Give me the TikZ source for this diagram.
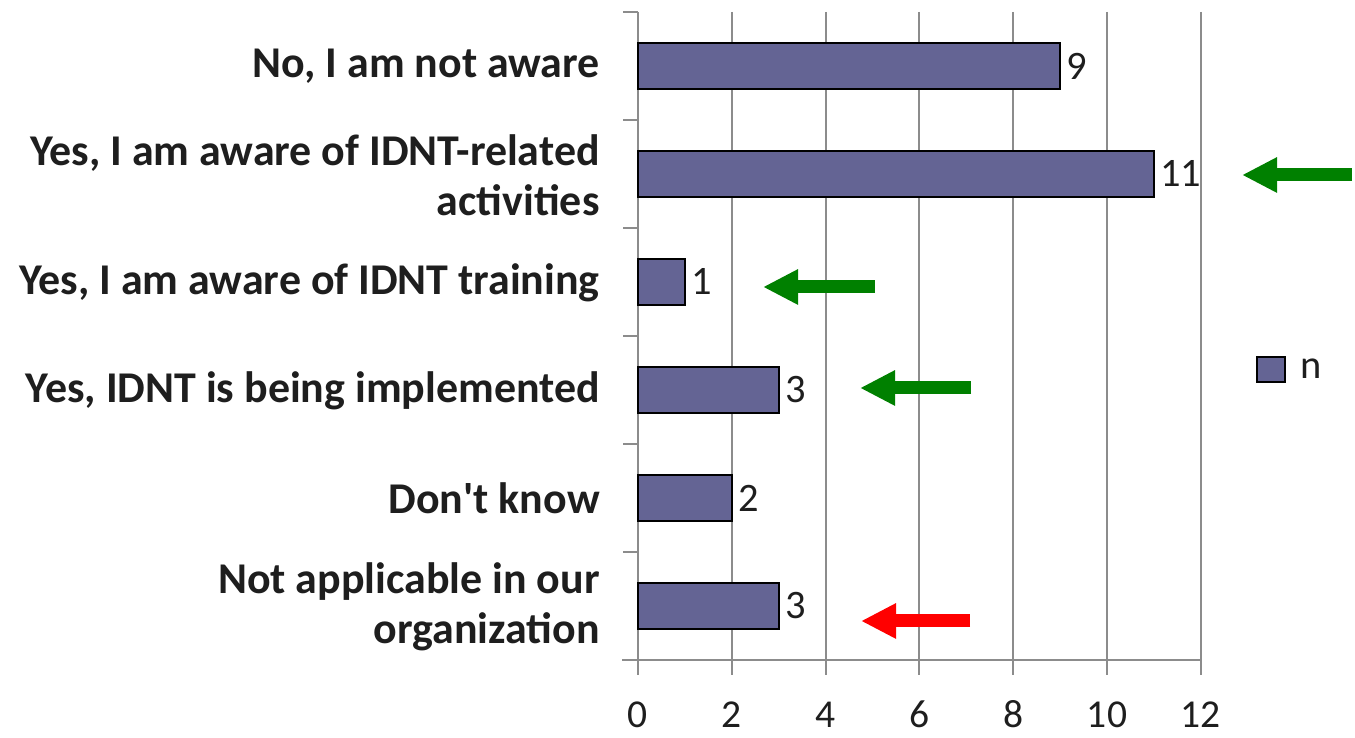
\documentclass[tikz,border=0pt]{standalone}
\usepackage{fontspec}
\setmainfont{Carlito}
\usepackage{xcolor}
\definecolor{textdark}{HTML}{1E1E1E}
\definecolor{gridgray}{HTML}{8C8C8C}
\definecolor{barfill}{HTML}{646494}
\definecolor{arrowgreen}{HTML}{008000}
\definecolor{arrowred}{HTML}{FF0000}
\usetikzlibrary{arrows.meta,positioning}

\begin{document}
\begin{tikzpicture}[
    catlabel/.style={font=\fontsize{25}{28.5}\selectfont\bfseries, text=textdark, anchor=east, align=right, inner sep=0pt},
    vallabel/.style={font=\fontsize{23}{26}\selectfont, text=textdark, anchor=west, inner sep=0pt},
    ticklabel/.style={font=\fontsize{22.5}{26}\selectfont, text=textdark, inner sep=0pt},
    bar/.style={draw=black, line width=1.2pt, fill=barfill},
    gridline/.style={gridgray, line width=1.2pt},
    fatarrow/.style={line width=0.26cm, -{Triangle[length=0.7cm,width=0.66cm]}}
  ]
  \useasboundingbox (0,0) rectangle (27.1,14.76);

  % grid and axes
  \draw[gridline] (14.636,14.52) -- (14.636,1.26);
  \draw[gridline] (16.512,14.52) -- (16.512,1.26);
  \draw[gridline] (18.388,14.52) -- (18.388,1.26);
  \draw[gridline] (20.264,14.52) -- (20.264,1.26);
  \draw[gridline] (22.140,14.52) -- (22.140,1.26);
  \draw[gridline] (24.016,14.52) -- (24.016,1.26);
  \draw[gridline] (12.76,14.52) -- (12.76,1.26);
  \draw[gridline] (12.44,1.56) -- (24.016,1.56);
  \draw[gridline] (12.46,14.52) -- (12.76,14.52);
  \draw[gridline] (12.46,12.36) -- (12.76,12.36);
  \draw[gridline] (12.46,10.20) -- (12.76,10.20);
  \draw[gridline] (12.46,8.04) -- (12.76,8.04);
  \draw[gridline] (12.46,5.88) -- (12.76,5.88);
  \draw[gridline] (12.46,3.72) -- (12.76,3.72);

  \node[ticklabel] (t0) at (12.76,0.47) {0};
  \node[ticklabel] (t2) at (14.636,0.47) {2};
  \node[ticklabel] (t4) at (16.512,0.47) {4};
  \node[ticklabel] (t6) at (18.388,0.47) {6};
  \node[ticklabel] (t8) at (20.264,0.47) {8};
  \node[ticklabel] (t10) at (22.140,0.47) {10};
  \node[ticklabel] (t12) at (24.016,0.47) {12};

  % bars
  \node[catlabel] (notaware) at (12.0,13.44) {No, I am not aware};
  \draw[bar] (12.76,12.98) rectangle (21.202,13.90);
  \node[vallabel] (vnotaware) at (21.32,13.44) {9};

  \node[catlabel] (related) at (12.0,11.26) {Yes, I am aware of IDNT-related\\activities};
  \draw[bar] (12.76,10.82) rectangle (23.078,11.74);
  \node[vallabel] (vrelated) at (23.20,11.28) {11};

  \node[catlabel] (training) at (12.0,9.10) {Yes, I am aware of IDNT training};
  \draw[bar] (12.76,8.66) rectangle (13.698,9.58);
  \node[vallabel] (vtraining) at (13.82,9.12) {1};

  \node[catlabel] (implemented) at (12.0,6.94) {Yes, IDNT is being implemented};
  \draw[bar] (12.76,6.50) rectangle (15.574,7.42);
  \node[vallabel] (vimplemented) at (15.70,6.96) {3};

  \node[catlabel] (dontknow) at (12.0,4.80) {Don\textquotesingle t know};
  \draw[bar] (12.76,4.34) rectangle (14.636,5.26);
  \node[vallabel] (vdontknow) at (14.76,4.80) {2};

  \node[catlabel] (notapplic) at (12.0,2.62) {Not applicable in our\\organization};
  \draw[bar] (12.76,2.18) rectangle (15.574,3.10);
  \node[vallabel] (vnotapplic) at (15.70,2.64) {3};

  % legend
  \draw[bar] (25.14,7.12) rectangle (25.70,7.62);
  \node[vallabel] (legn) at (26.00,7.38) {n};

  % arrows
  \coordinate (a1tail) at (27.04,11.26);
  \coordinate (a1tip) at (24.84,11.26);
  \draw[fatarrow, arrowgreen] (a1tail) -- (a1tip);
  \coordinate (a2tail) at (17.50,9.02);
  \coordinate (a2tip) at (15.26,9.02);
  \draw[fatarrow, arrowgreen] (a2tail) -- (a2tip);
  \coordinate (a3tail) at (19.42,7.00);
  \coordinate (a3tip) at (17.20,7.00);
  \draw[fatarrow, arrowgreen] (a3tail) -- (a3tip);
  \coordinate (a4tail) at (19.40,2.34);
  \coordinate (a4tip) at (17.22,2.34);
  \draw[fatarrow, arrowred] (a4tail) -- (a4tip);
\end{tikzpicture}
\end{document}
